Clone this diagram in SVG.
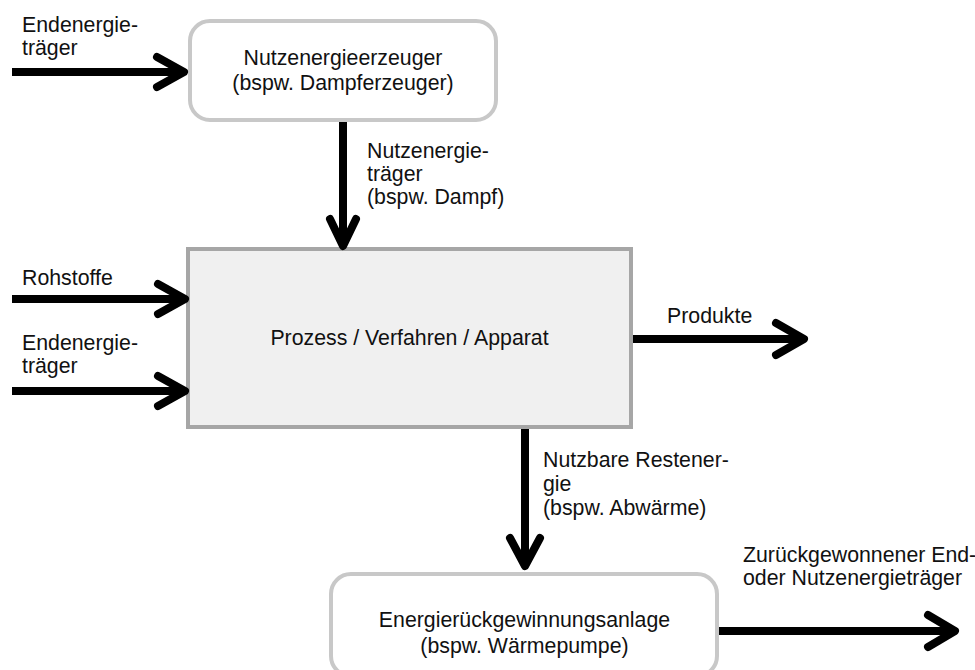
<svg xmlns="http://www.w3.org/2000/svg" width="975" height="670" viewBox="0 0 975 670">
<style>
text{font-family:"Liberation Sans",Arial,sans-serif;font-size:21.3px;fill:#111}
.mid{text-anchor:middle}
.rbox{fill:#fff;stroke:#c8c8c8;stroke-width:4}
.main{fill:#f0f0f0;stroke:#a6a6a6;stroke-width:4}
.c path{fill:none;stroke:#000;stroke-width:8;stroke-linecap:round;stroke-linejoin:round}
.c path.l{stroke-linecap:butt}
</style>
<rect width="975" height="670" fill="#fff"/>
<g id="n-erzeuger">
<rect class="rbox" x="190" y="21" width="306" height="99" rx="20"/>
<text class="mid" x="343" y="65">Nutzenergieerzeuger</text>
<text class="mid" x="343" y="90">(bspw. Dampferzeuger)</text>
</g>
<g id="n-prozess">
<rect class="main" x="188" y="249" width="443" height="178"/>
<text class="mid" x="409.5" y="345">Prozess / Verfahren / Apparat</text>
</g>
<g id="n-rueck">
<rect class="rbox" x="331" y="574" width="386" height="102" rx="20"/>
<text class="mid" x="524.5" y="627">Energierückgewinnungsanlage</text>
<text class="mid" x="524.5" y="653">(bspw. Wärmepumpe)</text>
</g>
<g id="connectors" class="c">
<path class="l" d="M12 72H182"/><path d="M157 57L184 72L157 87"/>
<path class="l" d="M12 299H184"/><path d="M158 284L185 299L158 314"/>
<path class="l" d="M12 391H184"/><path d="M158 376L185 391L158 406"/>
<path class="l" d="M633 339H802"/><path d="M776 323L804 339L776 355"/>
<path class="l" d="M719 631H953"/><path d="M928 615L955 631L928 647"/>
<path class="l" d="M343 122V244"/><path d="M330 219L343 246L356 219"/>
<path class="l" d="M525 429V564"/><path d="M510 538L525 566L540 538"/>
</g>
<g id="labels">
<text x="22" y="32">Endenergie-</text>
<text x="22" y="55">träger</text>
<text x="22" y="285">Rohstoffe</text>
<text x="22" y="350">Endenergie-</text>
<text x="22" y="373">träger</text>
<text x="367" y="158">Nutzenergie-</text>
<text x="367" y="181">träger</text>
<text x="367" y="204">(bspw. Dampf)</text>
<text x="667" y="323">Produkte</text>
<text x="543" y="467">Nutzbare Restener-</text>
<text x="543" y="491">gie</text>
<text x="543" y="515">(bspw. Abwärme)</text>
<text x="743" y="562">Zurückgewonnener End-</text>
<text x="743" y="585">oder Nutzenergieträger</text>
</g>
</svg>
